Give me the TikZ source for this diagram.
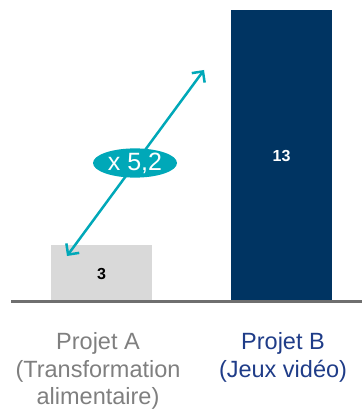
\documentclass[tikz,border=0pt]{standalone}
\usepackage{fontspec}
\setmainfont{Liberation Sans}
\usetikzlibrary{arrows.meta,shapes.geometric}
\definecolor{teal}{HTML}{00A8B8}
\definecolor{navy}{HTML}{003462}
\definecolor{barA}{HTML}{D9D9D9}
\definecolor{axisgray}{HTML}{6F6F6F}
\definecolor{labA}{HTML}{7F7F7F}
\definecolor{labB}{HTML}{1F3C88}
\begin{document}
\begin{tikzpicture}[x=1pt,y=-1pt,
  bar/.style={draw=none,minimum width=101pt,anchor=south},
  cat/.style={align=center,font=\fontsize{23.5}{27.5}\selectfont},
  val/.style={font=\fontsize{16}{18}\selectfont\bfseries}]
\useasboundingbox (0,0) rectangle (362,411);
\node[bar,fill=barA,minimum height=55pt] (A) at (101.5,300) {};
\node[bar,fill=navy,minimum height=290pt] (B) at (281.5,300) {};
\node[val] (va) at (101.5,274) {3};
\node[val,text=white] (vb) at (281.5,156) {13};
\draw[axisgray,line width=3pt] (11,301) coordinate (ax0) -- (362,301) coordinate (ax1);
\coordinate (p1) at (67,256);
\coordinate (p2) at (204,70);
\draw[teal,line width=2.5pt,{Straight Barb[length=8pt,width=16pt,line width=2.5pt]}-{Straight Barb[length=8pt,width=16pt,line width=2.5pt]}] (p1) -- (p2);
\node[ellipse,fill=teal,minimum width=84pt,minimum height=29pt,inner sep=0pt,text=white,font=\fontsize{25}{26}\selectfont] (m) at (135,163) {x 5,2};
\node[cat,text=labA,anchor=north] (la) at (98,329) {Projet A\\(Transformation\\alimentaire)};
\node[cat,text=labB,anchor=north] (lb) at (283,329) {Projet B\\(Jeux vidéo)};
\end{tikzpicture}
\end{document}
